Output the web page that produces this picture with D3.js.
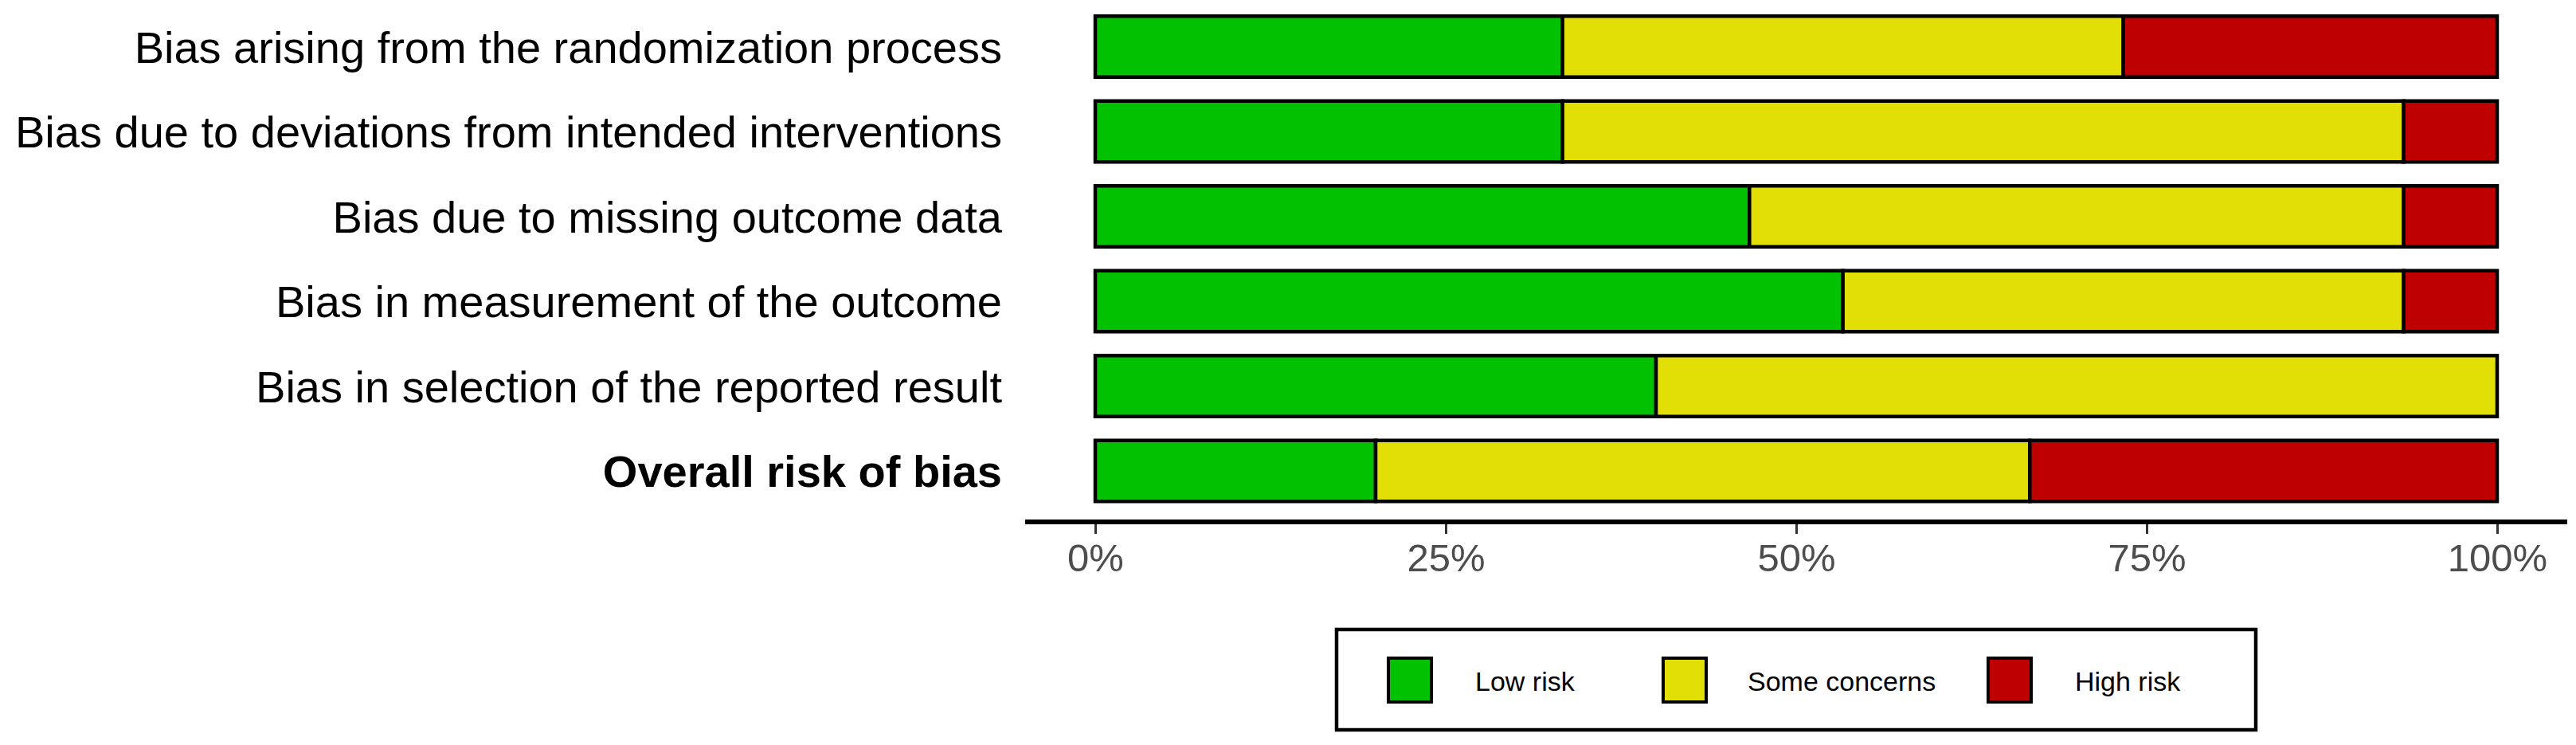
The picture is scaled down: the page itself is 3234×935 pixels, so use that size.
<!DOCTYPE html>
<html><head><meta charset="utf-8">
<script src="https://cdn.jsdelivr.net/npm/d3@7"></script>
<style>html,body{margin:0;padding:0;background:#fff;}</style>
</head><body>
<svg id="chart" width="3234" height="935"></svg>
<script>
const domains = [
  "Bias arising from the randomization process",
  "Bias due to deviations from intended interventions",
  "Bias due to missing outcome data",
  "Bias in measurement of the outcome",
  "Bias in selection of the reported result",
  "Overall risk of bias"
];
const judgements = ["Low risk", "Some concerns", "High risk"];
const lowRisk      = [5, 5, 7, 8, 6, 3];
const someConcerns = [6, 9, 7, 6, 9, 7];
const highRisk     = [4, 1, 1, 1, 0, 5];
const xTicks = [0, 0.25, 0.5, 0.75, 1];
const colors = ["#02C100", "#E2DF07", "#BF0000"];

const rows = domains.map((d, i) => {
  const total = lowRisk[i] + someConcerns[i] + highRisk[i];
  return {domain: d, "Low risk": lowRisk[i] / total, "Some concerns": someConcerns[i] / total, "High risk": highRisk[i] / total};
});
const stacked = d3.stack().keys(judgements)(rows);

const svg = d3.select("#chart");
const x = d3.scaleLinear().domain([0, 1]).range([1375, 3135]);
const y = d3.scaleBand().domain(domains).range([5.25, 644.25]).paddingInner(0.2817).paddingOuter(0.2817 / 2);
const color = d3.scaleOrdinal().domain(judgements).range(colors);

// bars
svg.append("g").selectAll("g").data(stacked).join("g")
  .attr("fill", d => color(d.key))
  .selectAll("rect").data(d => d).join("rect")
  .attr("x", d => x(d[0]))
  .attr("y", d => y(d.data.domain))
  .attr("width", d => x(d[1]) - x(d[0]))
  .attr("height", y.bandwidth())
  .attr("stroke", d => (d[1] - d[0]) > 0 ? "#000" : "none")
  .attr("stroke-width", 4.5);

// y labels
svg.append("g").selectAll("text").data(domains).join("text")
  .attr("x", 1258)
  .attr("y", d => y(d) + y.bandwidth() / 2 + 20)
  .attr("text-anchor", "end")
  .attr("font-family", "Liberation Sans, Arial, sans-serif")
  .attr("font-size", 56)
  .attr("font-weight", (d, i) => i === domains.length - 1 ? "bold" : "normal")
  .attr("fill", "#000")
  .text(d => d);

// x axis
const axisY = 655;
svg.append("line")
  .attr("x1", 1287).attr("x2", 3223)
  .attr("y1", axisY).attr("y2", axisY)
  .attr("stroke", "#000").attr("stroke-width", 6);
const ax = svg.append("g").attr("transform", `translate(0,${axisY + 3})`)
  .call(d3.axisBottom(x).tickValues(xTicks).tickFormat(d3.format(".0%")).tickSize(12).tickPadding(12));
ax.select(".domain").remove();
ax.selectAll(".tick line").attr("stroke", "#333").attr("stroke-width", 3);
ax.selectAll(".tick text")
  .attr("font-family", "Liberation Sans, Arial, sans-serif")
  .attr("font-size", 49)
  .attr("fill", "#4D4D4D")
  .attr("dy", null)
  .attr("y", 59);

// legend
const lg = svg.append("g");
lg.append("rect").attr("x", 1678).attr("y", 790).attr("width", 1154).attr("height", 126)
  .attr("fill", "#fff").attr("stroke", "#000").attr("stroke-width", 4.5);
const keyX = [1743, 2088, 2496];
const textX = [1852, 2194, 2605];
const lItems = lg.selectAll("g").data(judgements).join("g");
lItems.append("rect")
  .attr("x", (d, i) => keyX[i]).attr("y", 826)
  .attr("width", 54).attr("height", 55)
  .attr("fill", d => color(d)).attr("stroke", "#000").attr("stroke-width", 4);
lItems.append("text")
  .attr("x", (d, i) => textX[i]).attr("y", 867)
  .attr("font-family", "Liberation Sans, Arial, sans-serif")
  .attr("font-size", 34)
  .attr("fill", "#000")
  .text(d => d);
</script>
</body></html>
